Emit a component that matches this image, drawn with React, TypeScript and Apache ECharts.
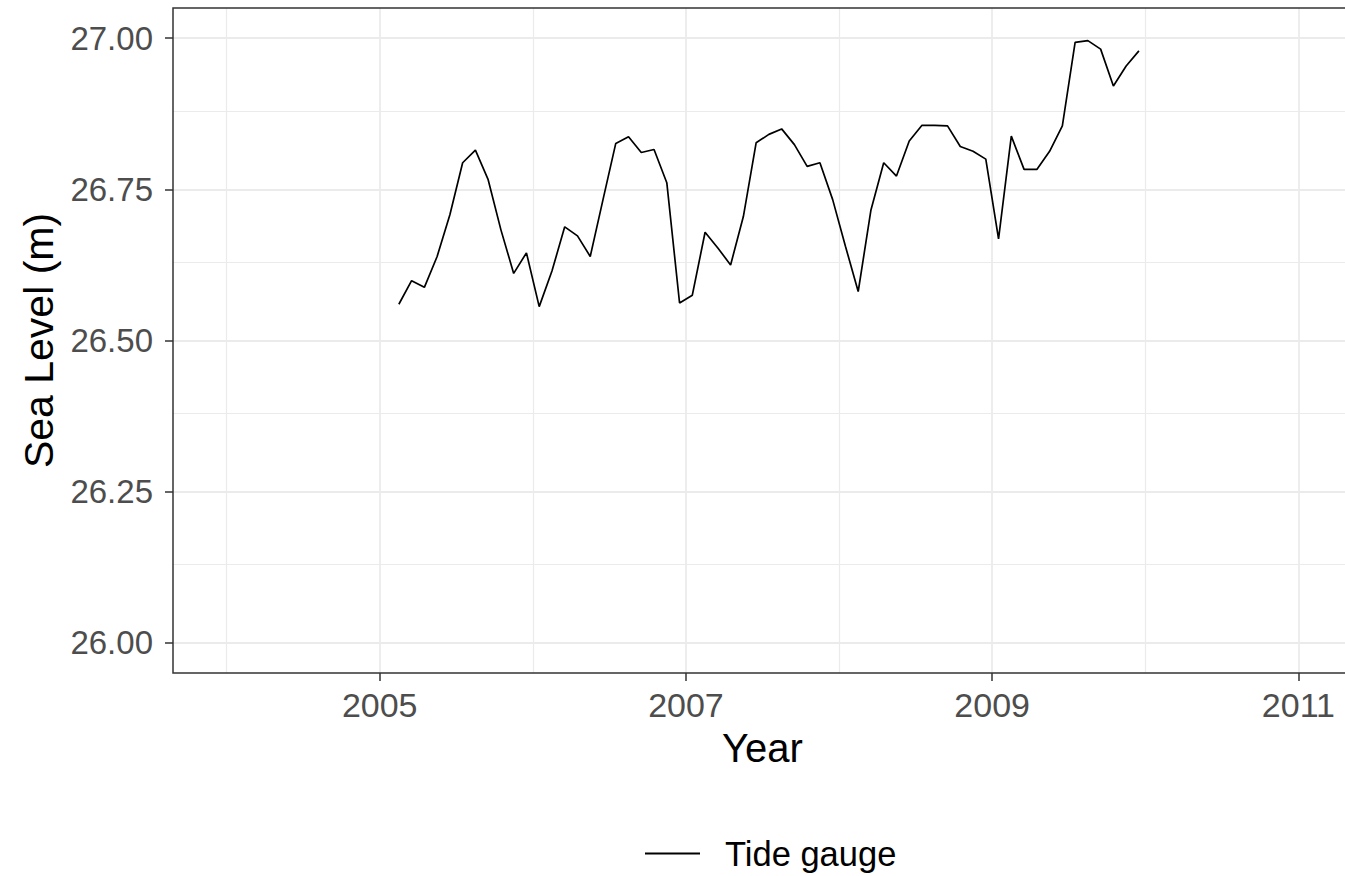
import React, { useEffect, useRef } from "react";
import * as echarts from "echarts";

const months = [
  "2005-02", "2005-03", "2005-04", "2005-05", "2005-06", "2005-07", "2005-08", "2005-09", "2005-10", "2005-11", "2005-12",
  "2006-01", "2006-02", "2006-03", "2006-04", "2006-05", "2006-06", "2006-07", "2006-08", "2006-09", "2006-10", "2006-11", "2006-12",
  "2007-01", "2007-02", "2007-03", "2007-04", "2007-05", "2007-06", "2007-07", "2007-08", "2007-09", "2007-10", "2007-11", "2007-12",
  "2008-01", "2008-02", "2008-03", "2008-04", "2008-05", "2008-06", "2008-07", "2008-08", "2008-09", "2008-10", "2008-11", "2008-12",
  "2009-01", "2009-02", "2009-03", "2009-04", "2009-05", "2009-06", "2009-07", "2009-08", "2009-09", "2009-10", "2009-11", "2009-12",
];

const seaLevel = [
  26.560, 26.599, 26.588, 26.639, 26.708, 26.794, 26.815, 26.766, 26.683, 26.611, 26.645,
  26.556, 26.615, 26.688, 26.673, 26.639, 26.733, 26.826, 26.837, 26.811, 26.816, 26.761, 26.562,
  26.575, 26.679, 26.653, 26.625, 26.705, 26.827, 26.841, 26.850, 26.824, 26.788, 26.794, 26.733,
  26.656, 26.581, 26.716, 26.794, 26.772, 26.830, 26.856, 26.856, 26.855, 26.821, 26.813, 26.800,
  26.668, 26.838, 26.783, 26.783, 26.813, 26.855, 26.993, 26.996, 26.982, 26.921, 26.954, 26.979,
];

const xTicks = [2005, 2007, 2009, 2011];
const xMinorTicks = [2004, 2006, 2008, 2010];
const yTicks = [26.0, 26.25, 26.5, 26.75, 27.0];
const yMinorTicks = [26.125, 26.375, 26.625, 26.875];

const seriesName = "Tide gauge";
const FONT = "'Liberation Sans', Arial, sans-serif";

function toDecimalYear(s: string): number {
  const [y, m] = s.split("-").map(Number);
  return y + (m - 0.5) / 12;
}

export default function App() {
  const ref = useRef<HTMLDivElement>(null);

  useEffect(() => {
    if (!ref.current) return;
    const chart = echarts.init(ref.current, undefined, { renderer: "svg" });
    const data = months.map((m, i) => [toDecimalYear(m), seaLevel[i]]);

    const gridColor = "#EBEBEB";
    const major = { color: gridColor, width: 1.8, type: "solid" };
    const minor = { color: gridColor, width: 1.2, type: "solid" };
    const markData: any[] = [
      ...xTicks.map((v) => ({ xAxis: v, lineStyle: major })),
      ...xMinorTicks.map((v) => ({ xAxis: v, lineStyle: minor })),
      ...yTicks.map((v) => ({ yAxis: v, lineStyle: major })),
      ...yMinorTicks.map((v) => ({ yAxis: v, lineStyle: minor })),
    ];

    chart.setOption({
      animation: false,
      backgroundColor: "#FFFFFF",
      textStyle: { fontFamily: FONT },
      grid: {
        left: 173,
        top: 8,
        width: 1179,
        height: 665,
        show: true,
        borderColor: "#333333",
        borderWidth: 1.5,
        backgroundColor: "transparent",
        z: 10,
      },
      legend: {
        data: [seriesName],
        left: 645,
        top: 836,
        padding: 0,
        icon: "rect",
        itemWidth: 55,
        itemHeight: 2,
        textStyle: {
          fontFamily: FONT,
          fontSize: 34.5,
          color: "#000000",
          padding: [0, 0, 0, 20],
        },
      },
      xAxis: {
        type: "value",
        min: 2003.65,
        max: 2011.35,
        splitLine: { show: false },
        axisLine: { show: false },
        axisTick: {
          show: true,
          customValues: xTicks,
          length: 8,
          lineStyle: { color: "#333333", width: 1.5 },
        },
        axisLabel: {
          customValues: xTicks,
          formatter: (v: number) => String(v),
          fontFamily: FONT,
          fontSize: 34,
          color: "#4D4D4D",
          margin: 15,
        },
        name: "Year",
        nameLocation: "middle",
        nameGap: 55,
        nameTextStyle: { fontFamily: FONT, fontSize: 40, color: "#000000" },
      },
      yAxis: {
        type: "value",
        min: 25.95,
        max: 27.05,
        splitLine: { show: false },
        axisLine: { show: false },
        axisTick: {
          show: true,
          customValues: yTicks,
          length: 8,
          lineStyle: { color: "#333333", width: 1.5 },
        },
        axisLabel: {
          customValues: yTicks,
          formatter: (v: number) => v.toFixed(2),
          fontFamily: FONT,
          fontSize: 33,
          color: "#4D4D4D",
          margin: 20,
        },
        name: "Sea Level (m)",
        nameLocation: "middle",
        nameGap: 112,
        nameRotate: 90,
        nameTextStyle: { fontFamily: FONT, fontSize: 41, color: "#000000" },
      },
      series: [
        {
          name: "gridlines",
          type: "line",
          data: [],
          z: 1,
          silent: true,
          markLine: {
            silent: true,
            z: 1,
            symbol: ["none", "none"],
            label: { show: false },
            emphasis: { disabled: true },
            animation: false,
            data: markData,
          },
        },
        {
          name: seriesName,
          type: "line",
          data,
          z: 5,
          showSymbol: false,
          symbol: "none",
          itemStyle: { color: "#000000" },
          lineStyle: { color: "#000000", width: 1.7 },
        },
      ],
    });

    return () => chart.dispose();
  }, []);

  return (
    <div
      style={{
        position: "absolute",
        left: 0,
        top: 0,
        width: 1345,
        height: 876,
        overflow: "hidden",
      }}
    >
      <div ref={ref} style={{ width: 1365, height: 876 }} />
    </div>
  );
}
